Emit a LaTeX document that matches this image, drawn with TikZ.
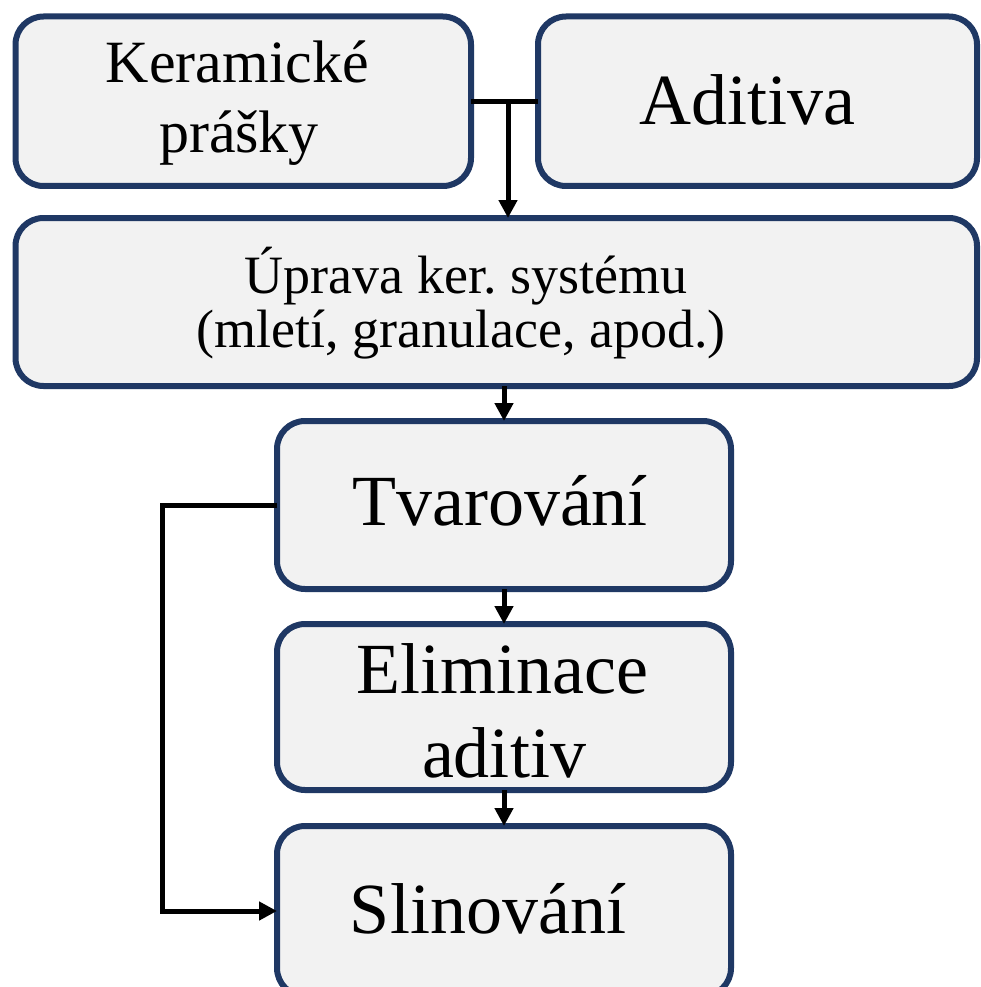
\documentclass[tikz,border=0pt]{standalone}
\usepackage{fontspec}
\setmainfont{Liberation Serif}
\usetikzlibrary{arrows.meta}
\definecolor{boxline}{HTML}{1F3864}
\definecolor{boxfill}{HTML}{F2F2F2}
\tikzset{
  procbox/.style={draw=boxline, fill=boxfill, line width=6pt, rounded corners=28pt, inner sep=0pt, outer sep=0pt},
  conn/.style={draw=black, line width=5pt},
  arr/.style={conn, -{Triangle[length=18pt,width=18pt]}},
  txt/.style={anchor=base, inner sep=0pt, text=black},
}
\newcommand{\fsz}[1]{\fontsize{#1}{#1}\selectfont}
\frenchspacing
\begin{document}
\begin{tikzpicture}[x=1pt,y=-1pt]
\clip (0,0) rectangle (981,987);
\useasboundingbox (0,0) rectangle (981,987);
\fill[white] (0,0) rectangle (981,987);
% boxes
\node[procbox, minimum width=455.5pt, minimum height=169.5pt] (k) at (243.25,101.25) {};
\node[procbox, minimum width=439pt, minimum height=169.5pt] (a) at (757.5,101.25) {};
\node[procbox, minimum width=961.5pt, minimum height=168pt] (u) at (496.25,302) {};
\node[procbox, minimum width=454pt, minimum height=168pt] (t) at (504,505) {};
\node[procbox, minimum width=454pt, minimum height=166pt] (e) at (504,707) {};
\node[procbox, minimum width=454pt, minimum height=170pt] (s) at (504,911) {};
% texts
\node[txt] (k1) at (237.5,83) {\fsz{60}Keramické};
\node[txt] (k2) at (239,153) {\fsz{60}prášky};
\node[txt] (a1) at (747,125) {\fsz{72}Aditiva};
\node[txt] (u1) at (466,293) {\fsz{54}Úprava ker. systému};
\node[txt] (u2) at (461,347) {\fsz{54}(mletí, granulace, apod.)};
\node[txt] (t1) at (500,525) {\fsz{72}Tvarování};
\node[txt] (e1) at (502.5,693) {\fsz{72}Eliminace};
\node[txt] (e2) at (504,777) {\fsz{72}aditiv};
\node[txt] (s1) at (488,933) {\fsz{72}Slinování};
% connectors
\coordinate (j) at (508,101.25);
\draw[conn] (k.east) -- (a.west);
\draw[arr] (j) -- (j |- u.north);
\draw[arr] (u.south -| t.north) -- (t.north);
\draw[arr] (t.south) -- (e.north);
\draw[arr] (e.south) -- (s.north);
\coordinate (fb) at (162,505);
\draw[arr] (t.west) -- (fb) |- (s.west);
\end{tikzpicture}
\end{document}
